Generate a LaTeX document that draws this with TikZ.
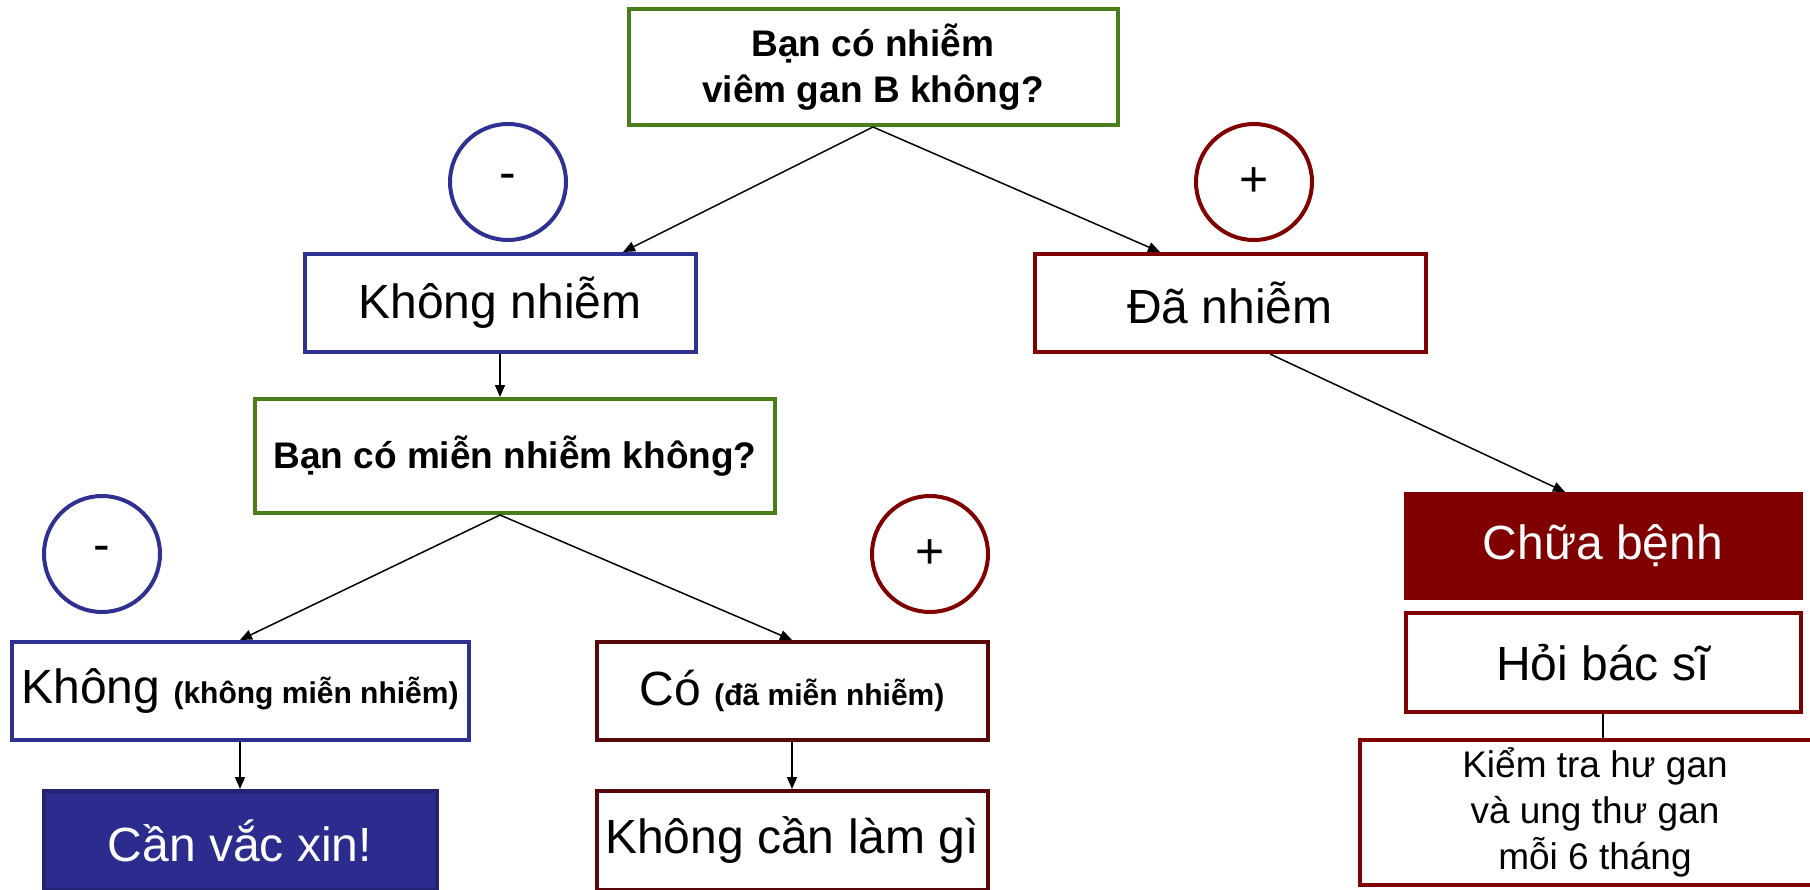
\documentclass[tikz,border=0pt]{standalone}
\usepackage{fontspec}
\setsansfont{Liberation Sans}
\usetikzlibrary{
  arrows.meta,
  positioning
}
\definecolor{QuizGreen}{RGB}{74,126,26}
\definecolor{NavyBlue}{RGB}{46,49,146}
\definecolor{DeepBlue}{RGB}{43,44,142}
\definecolor{DarkRed}{RGB}{128,0,0}
\definecolor{Maroon}{RGB}{88,8,8}

\begin{document}
\begin{tikzpicture}[
        x=0.5pt, y=-0.5pt,
        node distance=23.5pt,
        every node/.style={font=\sffamily},
        big/.style={font=\sffamily\fontsize{24}{28}\selectfont},
        box/.style={rectangle, draw, line width=2pt, align=center, inner sep=2pt, fill=white},
        question/.style={box, draw=QuizGreen, font=\sffamily\bfseries\fontsize{18.5}{23}\selectfont},
        sign/.style={circle, line width=2pt, minimum size=58pt, font=\sffamily\fontsize{25}{28}\selectfont},
        arrow/.style={line width=0.75pt, ->, >={Triangle[length=6pt,width=5pt]}}
    ]
    \useasboundingbox (0,0) rectangle (1810,889);
    % Nodes
    \node[question, minimum width=244.5pt, minimum height=58pt] (infq) at (873,67) {Bạn có nhiễm\\viêm gan B không?};
    \node[sign, draw=NavyBlue] (neg) at (508,182) {-};
    \node[sign, draw=DarkRed] (pos) at (1254,182) {+};
    \node[box, big, draw=NavyBlue, minimum width=195.5pt, minimum height=49pt] (noinf) at (500,303) {Không nhiễm};
    \node[box, big, draw=DarkRed, minimum width=195.5pt, minimum height=49pt] (inf) at (1230,303) {Đã nhiễm};
    \node[question, minimum width=260pt, minimum height=57pt] (immq) at (515,456) {Bạn có miễn nhiễm không?};
    \node[sign, draw=NavyBlue] (neg2) at (102,554) {-};
    \node[sign, draw=DarkRed] (pos2) at (930,554) {+};
    \node[box, big, draw=NavyBlue, minimum width=228.5pt, minimum height=49pt] (noimm) at (240,691) {Không {\bfseries\fontsize{15}{18}\selectfont (không miễn nhiễm)}};
    \node[box, big, draw=Maroon, minimum width=195.5pt, minimum height=49pt] (imm) at (792,691) {Có {\bfseries\fontsize{15}{18}\selectfont (đã miễn nhiễm)}};
    \node[box, big, draw=DeepBlue!80!black, fill=DeepBlue, text=white, minimum width=196.5pt, minimum height=49.5pt, below=of noimm] (vaccine) {Cần vắc xin!};
    \node[box, big, draw=Maroon, minimum width=195.5pt, minimum height=49.5pt, below=of imm] (nothing) {Không cần làm gì};
    \node[box, big, draw=DarkRed, fill=DarkRed, text=white, minimum width=197.5pt, minimum height=52pt] (treat) at (1603,546) {Chữa bệnh};
    \node[box, big, draw=DarkRed, minimum width=197.5pt, minimum height=49.5pt, below=5.5pt of treat] (doctor) {Hỏi bác sĩ};
    \node[box, draw=DarkRed, font=\sffamily\fontsize{18.5}{23}\selectfont, minimum width=235pt, minimum height=72.5pt] (check) at (1595,812.5) {Kiểm tra hư gan\\và ung thư gan\\mỗi 6 tháng};

    % Arrows
    \draw[arrow] (infq.south) -- ([xshift=61.5pt]noinf.north);
    \draw[arrow] (infq.south) -- ([xshift=-35pt]inf.north);
    \draw[arrow] (noinf.south) -- (noinf.south |- immq.north);
    \draw[arrow] (noinf.south |- immq.south) -- (noimm.north);
    \draw[arrow] (noinf.south |- immq.south) -- (imm.north);
    \draw[arrow] ([xshift=20pt]inf.south) -- ([xshift=-19pt]treat.north);
    \draw[arrow] (noimm) -- (vaccine);
    \draw[arrow] (imm) -- (nothing);
    \draw[line width=0.75pt] (doctor.south) -- (doctor.south |- check.north);
\end{tikzpicture}
\end{document}
